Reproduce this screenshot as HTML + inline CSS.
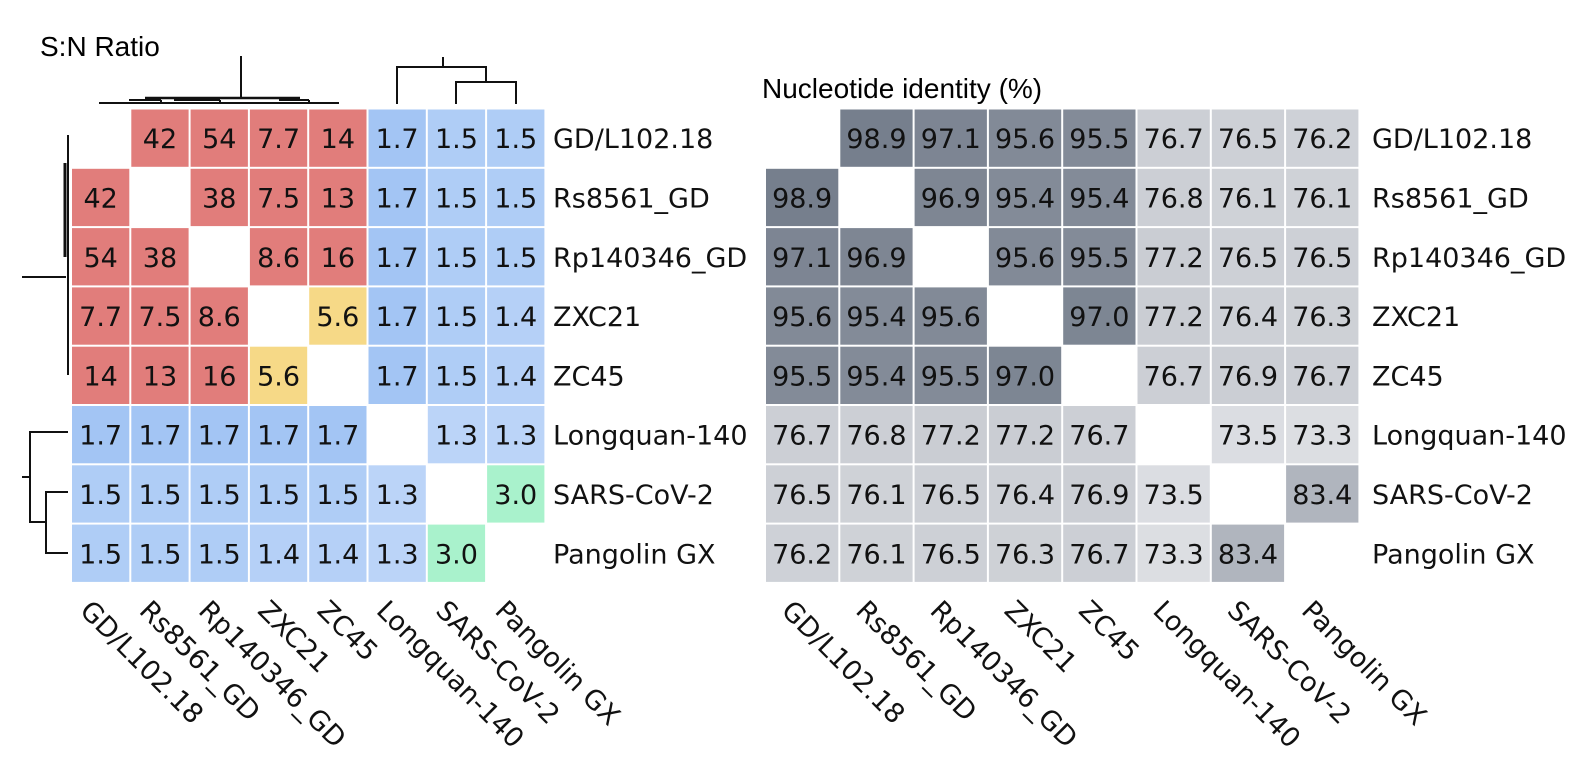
<!DOCTYPE html>
<html><head><meta charset="utf-8"><style>
html,body{margin:0;padding:0;background:#fff;}
svg{display:block;}
text{font-family:"DejaVu Sans","Liberation Sans",sans-serif;}
</style></head><body>
<svg id="chart" width="1590" height="765" viewBox="0 0 1590 765" xmlns="http://www.w3.org/2000/svg">
<text x="40" y="56" font-size="28" style="font-family:'Liberation Sans',sans-serif">S:N Ratio</text>
<text x="762" y="98" font-size="28" style="font-family:'Liberation Sans',sans-serif">Nucleotide identity (%)</text>
<g stroke="#111" stroke-width="2" fill="none">
<path d="M99 103 H339"/><path d="M129 100 H161 M174 100 H220 M279 100 H309"/><path d="M145 98 H300" stroke-width="2.5"/>
<path d="M241 56 V98"/><path d="M161 100 V104 M220 100 V104 M309 100 V104"/>
<path d="M397 104 V67 H486 V82"/><path d="M443 57 V67"/><path d="M456 104 V82 H516 V104"/>
</g>
<g stroke="#111" stroke-width="2" fill="none">
<path d="M68 135 V375"/><path d="M65 163 V257" stroke-width="3"/><path d="M22 277 H66"/>
<path d="M68 432 H30 V522 H46"/><path d="M22 477 H30"/><path d="M68 492 H46 V553 H68"/>
</g>
<g id="left-map"></g>
<g id="right-map"></g>
</svg>
<script>
const names = ["GD/L102.18","Rs8561_GD","Rp140346_GD","ZXC21","ZC45","Longquan-140","SARS-CoV-2","Pangolin GX"];
const snValues = [
 [null,"42","54","7.7","14","1.7","1.5","1.5"],
 ["42",null,"38","7.5","13","1.7","1.5","1.5"],
 ["54","38",null,"8.6","16","1.7","1.5","1.5"],
 ["7.7","7.5","8.6",null,"5.6","1.7","1.5","1.4"],
 ["14","13","16","5.6",null,"1.7","1.5","1.4"],
 ["1.7","1.7","1.7","1.7","1.7",null,"1.3","1.3"],
 ["1.5","1.5","1.5","1.5","1.5","1.3",null,"3.0"],
 ["1.5","1.5","1.5","1.4","1.4","1.3","3.0",null]
];
const ntValues = [
 [null,"98.9","97.1","95.6","95.5","76.7","76.5","76.2"],
 ["98.9",null,"96.9","95.4","95.4","76.8","76.1","76.1"],
 ["97.1","96.9",null,"95.6","95.5","77.2","76.5","76.5"],
 ["95.6","95.4","95.6",null,"97.0","77.2","76.4","76.3"],
 ["95.5","95.4","95.5","97.0",null,"76.7","76.9","76.7"],
 ["76.7","76.8","77.2","77.2","76.7",null,"73.5","73.3"],
 ["76.5","76.1","76.5","76.4","76.9","73.5",null,"83.4"],
 ["76.2","76.1","76.5","76.3","76.7","73.3","83.4",null]
];
const NS="http://www.w3.org/2000/svg";
const top0=108.5, rowH=59.3;
const L={x0:71,w:59.3,labelX:553,g:document.getElementById('left-map')};
const R={x0:765,w:74.3,labelX:1372,g:document.getElementById('right-map')};
function yPos(i){return top0+i*rowH;}
function mix(a,b,t){return 'rgb('+a.map((v,i)=>Math.round(v+(b[i]-v)*t)).join(',')+')';}
function snColor(v){
  if(v>=7) return '#e17d7b';
  if(v>=4) return '#f6d987';
  if(v>=2) return '#a9f2cc';
  const t=Math.max(0,Math.min(1,(v-1.3)/0.4));
  return mix([187,212,248],[163,197,244],t);
}
function ntColor(v){
  const t=Math.max(0,Math.min(1,(v-73)/(99-73)));
  return mix([222,224,228],[118,127,141],Math.pow(t,0.9));
}
function el(tag,attrs,parent){const e=document.createElementNS(NS,tag);for(const k in attrs)e.setAttribute(k,attrs[k]);parent.appendChild(e);return e;}
function draw(M,data,colorFn,prefix){
  for(let r=0;r<8;r++){
    for(let c=0;c<8;c++){
      const v=data[r][c]; if(v===null) continue;
      const x=M.x0+c*M.w, y=yPos(r);
      const rect=el('rect',{x:x+1,y:y+1,width:M.w-2,height:rowH-2,fill:colorFn(parseFloat(v))},M.g);
      
      
      const t=el('text',{x:x+M.w/2,y:y+rowH/2+10,'font-size':27,'text-anchor':'middle',fill:'#111'},M.g);
      
      
      t.textContent=v;
    }
    const lab=el('text',{x:M.labelX,y:yPos(r)+rowH/2+10,'font-size':27,fill:'#111'},M.g);
    
    
    lab.textContent=names[r];
  }
  for(let c=0;c<8;c++){
    const cx=M.x0+c*M.w+M.w/2-10, cy=612;
    const t=el('text',{x:0,y:0,'font-size':27,fill:'#111',transform:'translate('+(cx-12)+','+cy+') rotate(45)'},M.g);
    
    
    t.textContent=names[c];
  }
}
draw(L,snValues,snColor,'sn');
draw(R,ntValues,ntColor,'nt');
</script>
</body></html>
